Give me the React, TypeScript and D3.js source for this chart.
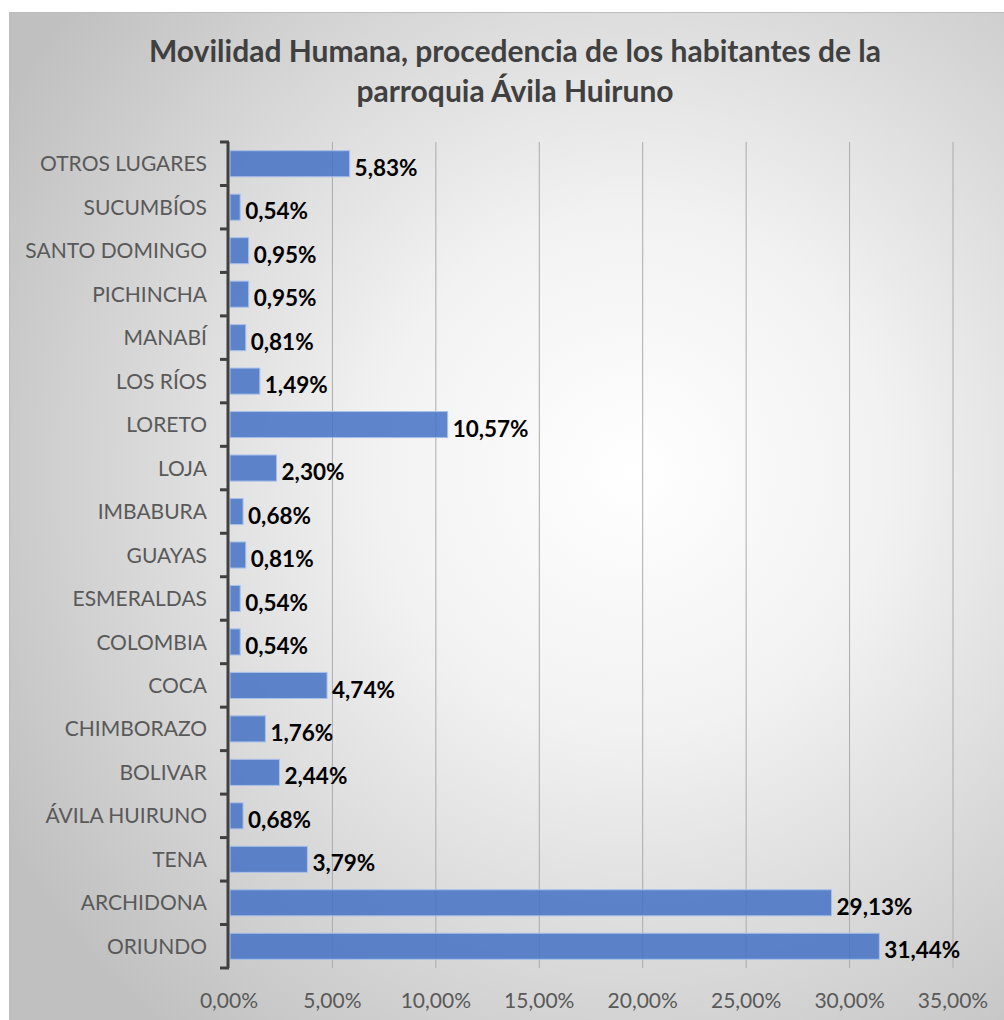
import React from "react";
import * as d3 from "d3";

const categories = [
  "OTROS LUGARES", "SUCUMBÍOS", "SANTO DOMINGO", "PICHINCHA", "MANABÍ", "LOS RÍOS",
  "LORETO", "LOJA", "IMBABURA", "GUAYAS", "ESMERALDAS", "COLOMBIA", "COCA",
  "CHIMBORAZO", "BOLIVAR", "ÁVILA HUIRUNO", "TENA", "ARCHIDONA", "ORIUNDO",
];
const values = [
  5.83, 0.54, 0.95, 0.95, 0.81, 1.49, 10.57, 2.30, 0.68, 0.81, 0.54, 0.54, 4.74,
  1.76, 2.44, 0.68, 3.79, 29.13, 31.44,
];
const xTicks = [0, 5, 10, 15, 20, 25, 30, 35];
const titleLines = ["Movilidad Humana, procedencia de los habitantes de la", "parroquia Ávila Huiruno"];

const fmt = (v: number) => v.toFixed(2).replace(".", ",") + "%";

export default function App() {
  const W = 1004, H = 1020;
  const left = 229, right = 953, top = 142, bottom = 968;
  const x = d3.scaleLinear().domain([0, 35]).range([left, right]);
  const y = d3.scaleBand<string>().domain(categories).range([top, bottom]).paddingInner(0.4).paddingOuter(0.2);
  const font = "Lato, 'Open Sans', sans-serif";
  const boundaries = d3.range(categories.length + 1).map((i) => top + i * ((bottom - top) / categories.length));
  return (
    <svg width={W} height={H} style={{ position: "absolute", left: 0, top: 0 }} fontFamily={font}>
      <defs>
        <radialGradient id="bg" cx="0.62" cy="0.45" r="0.72">
          <stop offset="0" stopColor="#ffffff" />
          <stop offset="0.35" stopColor="#f2f2f2" />
          <stop offset="1" stopColor="#c0c0c0" />
        </radialGradient>
      </defs>
      <rect x={0} y={0} width={W} height={H} fill="#ffffff" />
      <rect x={9.5} y={12.5} width={W} height={H} fill="url(#bg)" stroke="#bdbdbd" strokeWidth={1} />
      {titleLines.map((t, i) => (
        <text key={i} x={515} y={62 + i * 40} textAnchor="middle" fontSize={30} fontWeight={700} fill="#404040">
          {t}
        </text>
      ))}
      {xTicks.slice(1).map((t) => (
        <line key={t} x1={x(t)} x2={x(t)} y1={top} y2={bottom} stroke="#ababab" strokeWidth={1} />
      ))}
      {categories.map((c, i) => (
        <rect key={c} x={x(0) + 1} y={y(c)!} width={x(values[i]) - x(0) - 1} height={y.bandwidth()}
          fill="#4472c4" fillOpacity={0.85} stroke="#a9c1ea" strokeWidth={1} />
      ))}
      <line x1={left - 1} x2={left - 1} y1={top} y2={bottom} stroke="#404040" strokeWidth={3} />
      {boundaries.map((b, i) => (
        <line key={i} x1={left - 9} x2={left} y1={b} y2={b} stroke="#404040" strokeWidth={3} />
      ))}
      {categories.map((c) => (
        <text key={c} x={207} y={y(c)! + y.bandwidth() / 2} dy="0.36em" textAnchor="end" fontSize={21} fill="#595959">
          {c}
        </text>
      ))}
      {categories.map((c, i) => (
        <text key={c} x={x(values[i]) + 5} y={y(c)! + y.bandwidth() / 2 + 4} dy="0.36em" fontSize={22.5} fontWeight={700} fill="#000000">
          {fmt(values[i])}
        </text>
      ))}
      {xTicks.map((t) => (
        <text key={t} x={x(t)} y={1000} dy="0.36em" textAnchor="middle" fontSize={21} fill="#595959">
          {fmt(t)}
        </text>
      ))}
    </svg>
  );
}
